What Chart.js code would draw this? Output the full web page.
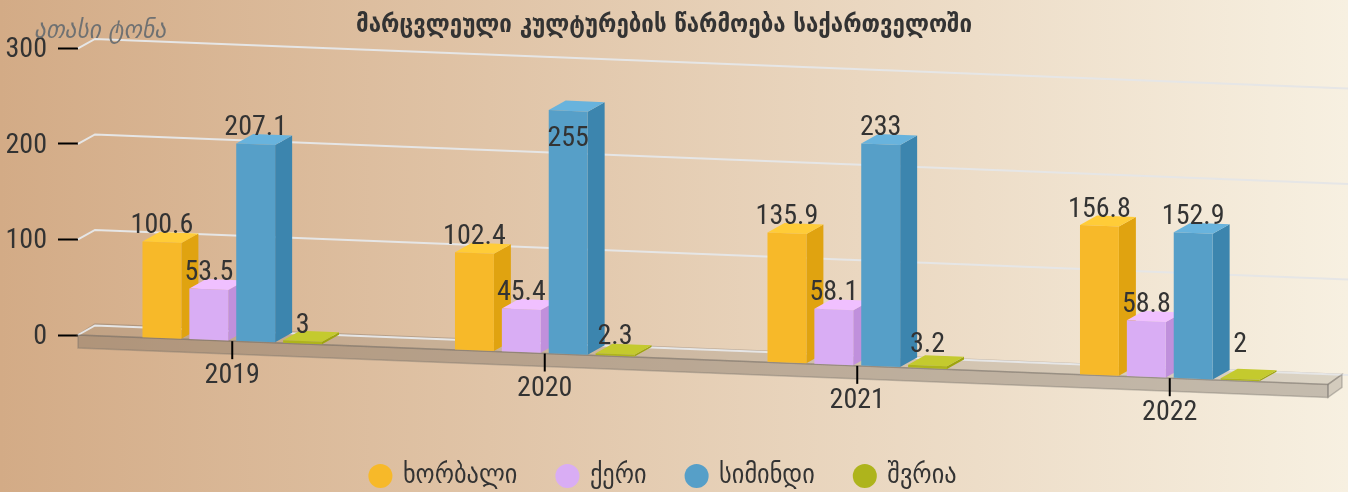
<!DOCTYPE html>
<html>
<head>
<meta charset="utf-8">
<style>
html,body{margin:0;padding:0;width:1348px;height:492px;overflow:hidden;background:linear-gradient(90deg,#D3AB86 0%,#F7F0E1 100%);}
canvas{display:block;}
</style>
<script src="https://cdn.jsdelivr.net/npm/chart.js@4"></script>
</head>
<body>
<canvas id="c" width="1348" height="492"></canvas>
<script>
const categories = ['2019','2020','2021','2022'];
const wheat = [100.6,102.4,135.9,156.8];
const barley = [53.5,45.4,58.1,58.8];
const maize = [207.1,255,233,152.9];
const oats = [3,2.3,3.2,2];
const seriesNames = ['ხორბალი','ქერი','სიმინდი','შვრია'];
const chartTitle = 'მარცვლეული კულტურების წარმოება საქართველოში';
const axisTitle = 'ათასი ტონა';
const yTicks = [0,100,200,300];

const GEO = '"DejaVu Sans Condensed","DejaVu Sans"';
const NUM = 'Roboto';
const NUMFONT = '400 condensed 28px Roboto';
const INK = '#333333';
const K = 0.0395, DX = 17, DY = -9.5, OX = 78, SHIFT = -2;
const LEGEND_PAD = 41, LEGEND_SIZE = 27, LEGEND_CENTER = 476;
const faces = [
  {front:'#F7B929', side:'#E0A310', top:'#FFCC38'},
  {front:'#D9ADF4', side:'#C090DC', top:'#F0C0FF'},
  {front:'#569FC8', side:'#3C85AE', top:'#68B3DD'},
  {front:'#AEB41C', side:'#9EA410', top:'#C4CA2E'}
];
const P = (x,y)=>[x+SHIFT, y+K*(x-OX)];
function poly(ctx,pts,fill,stroke,lw){
  ctx.beginPath();
  pts.forEach((p,i)=> i?ctx.lineTo(p[0],p[1]):ctx.moveTo(p[0],p[1]));
  ctx.closePath();
  if(fill){ctx.fillStyle=fill;ctx.fill();}
  if(stroke){ctx.strokeStyle=stroke;ctx.lineWidth=lw||1;ctx.stroke();}
}
// label lift above the bar top; the tallest label and the thin bars' labels sit apart
function labelBaseline(ds,i,top){
  const v=[wheat,barley,maize,oats][ds][i];
  if(v>250) return top+35;
  if(ds===3) return top-[8,10,14,27][i];
  return top-9;
}
const view3d = {
  id:'view3d',
  afterLayout(chart){
    const lg=chart.legend, h=lg.bottom-lg.top;
    lg.top=LEGEND_CENTER-LEGEND_PAD-LEGEND_SIZE/2; lg.bottom=lg.top+h;
  },
  beforeDatasetsDraw(chart){
    const {ctx,chartArea:a,scales:{y}}=chart;
    ctx.save();
    const y0=y.getPixelForValue(0), L=a.left, R=a.right, H=13;
    const s=x=>y0+K*(x-OX);
    // floor
    poly(ctx,[[L,s(L)],[L+DX,s(L)+DY-1.5],[R+14,s(R)-10],[R,s(R)]],'rgba(130,120,108,0.24)','rgba(120,110,100,0.35)',1.5);
    // grid on the back wall
    yTicks.forEach(t=>{
      const p=y.getPixelForValue(t);
      ctx.beginPath();
      ctx.moveTo(L,p);
      ctx.lineTo(L+DX,p+DY);
      ctx.lineTo(1348,p+DY+K*(1348-L-DX));
      ctx.strokeStyle='#E6E6E6';ctx.lineWidth=2;ctx.stroke();
    });
    poly(ctx,[[L,s(L)],[R,s(R)],[R,s(R)+H],[L,s(L)+H]],'rgba(116,105,95,0.38)','rgba(110,105,100,0.35)',1.5);
    poly(ctx,[[R,s(R)],[R+14,s(R)-10],[R+14,s(R)+H-10],[R,s(R)+H]],'rgba(130,120,108,0.30)','rgba(110,105,100,0.35)',1.5);
    ctx.restore();
    // left bars first, so each bar covers the side of the one before it
    chart.data.datasets.forEach((d,i)=>{
      const meta=chart.getDatasetMeta(i), f=faces[i];
      ctx.save();
      meta.data.forEach(el=>{
        const {x,y,base,width}=el.getProps(['x','y','base','width'],true);
        const l=x-width/2, r=x+width/2;
        const a=P(r,y), b=P(r,base), c=P(l,y);
        poly(ctx,[a,[a[0]+DX,a[1]+DY],[b[0]+DX,b[1]+DY],b],f.side);
        poly(ctx,[c,[c[0]+DX,c[1]+DY],[a[0]+DX,a[1]+DY],a],f.top);
      });
      ctx.transform(1,K,0,1,SHIFT,-K*OX);
      meta.controller.draw();
      ctx.restore();
    });
  },
  beforeDatasetDraw(){ return false; },
  afterDatasetsDraw(chart){
    const {ctx,scales:{x:xs,y:ys}}=chart;
    ctx.save();
    ctx.font=NUMFONT;ctx.fillStyle=INK;ctx.textAlign='center';ctx.textBaseline='alphabetic';
    chart.data.datasets.forEach((d,ds)=>{
      chart.getDatasetMeta(ds).data.forEach((el,i)=>{
        const p=P(el.x,el.y);
        ctx.fillText(String(d.data[i]),p[0],labelBaseline(ds,i,p[1]));
      });
    });
    categories.forEach((c,i)=>{
      const cx=xs.getPixelForTick(i), p=P(cx,ys.getPixelForValue(0));
      ctx.beginPath();ctx.moveTo(p[0],p[1]);ctx.lineTo(p[0],p[1]+18);
      ctx.strokeStyle='#000';ctx.lineWidth=2;ctx.stroke();
      ctx.fillText(c,p[0],p[1]+42);
    });
    ctx.font='italic 26px '+GEO;ctx.fillStyle='#6F7172';ctx.textAlign='left';
    ctx.fillText(axisTitle,34,38);
    ctx.restore();
  }
};
const series=[wheat,barley,maize,oats];
new Chart(document.getElementById('c'),{
  type:'bar',
  data:{labels:categories,datasets:series.map((s,i)=>({
    label:seriesNames[i],data:s,clip:false,
    backgroundColor:faces[i].front,borderWidth:0,
    categoryPercentage:0.6,barPercentage:0.83
  }))},
  options:{
    responsive:false,animation:false,devicePixelRatio:1,
    layout:{autoPadding:false,padding:{left:0,right:20,top:0,bottom:0}},
    scales:{
      x:{grid:{display:false},border:{display:false},ticks:{display:false},
         afterFit(s){s.height=157-(s.chart.legend?s.chart.legend.height:0);}},
      y:{min:0,max:300,border:{display:false},
         grid:{drawOnChartArea:false,drawTicks:true,tickLength:20,tickColor:'#000',tickWidth:2},
         ticks:{stepSize:100,padding:11,labelOffset:2,color:INK,font:{family:NUM,size:28,weight:'400 condensed'}},
         afterFit(s){s.width=78;}}
    },
    plugins:{
      title:{display:true,text:chartTitle,color:INK,font:{family:GEO,size:24.8,weight:'bold',lineHeight:1.2},padding:{top:11,bottom:7.7}},
      legend:{position:'bottom',labels:{usePointStyle:true,boxHeight:17,boxWidth:18,color:INK,padding:LEGEND_PAD,font:{family:GEO,size:LEGEND_SIZE}}},
      tooltip:{enabled:false}
    }
  },
  plugins:[view3d]
});
</script>
</body>
</html>
